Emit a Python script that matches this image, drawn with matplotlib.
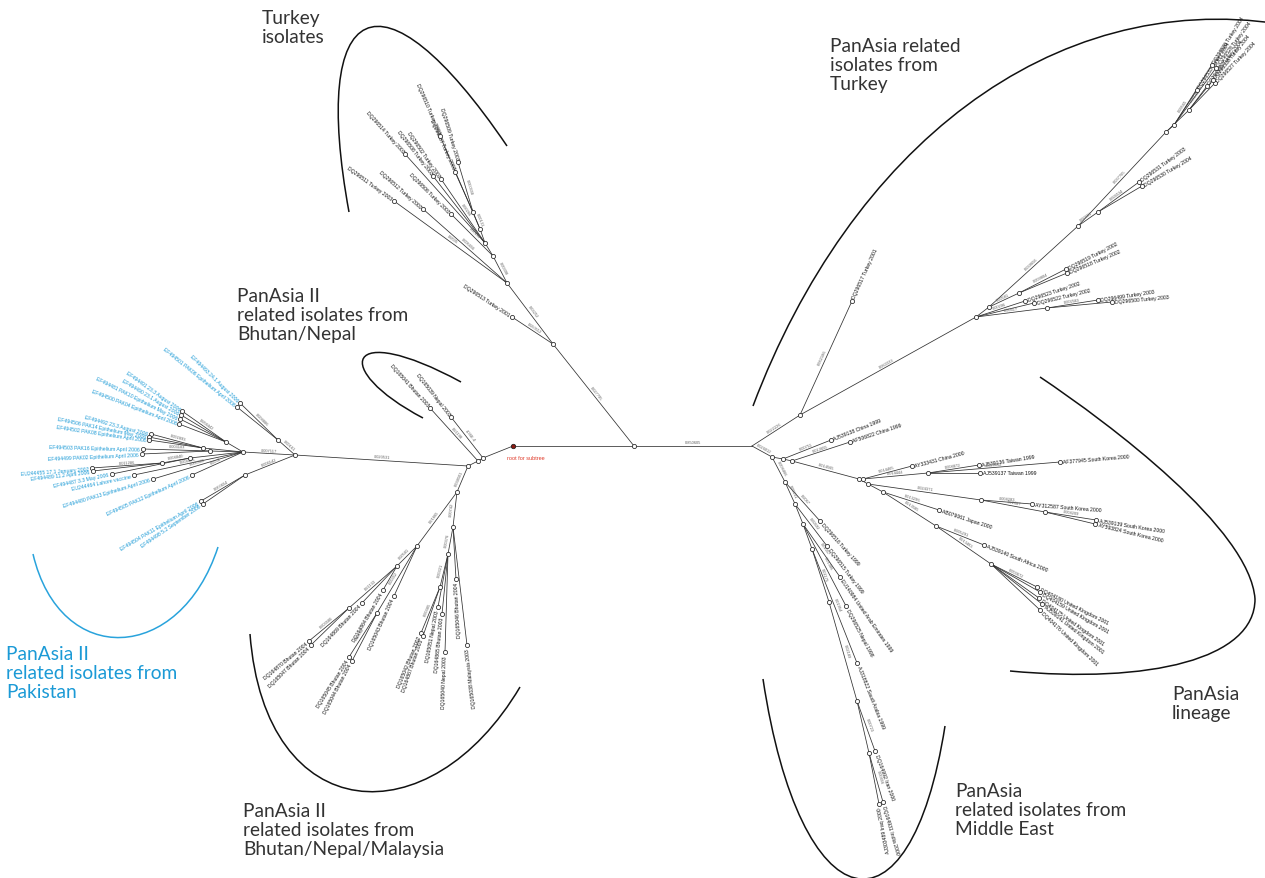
import numpy as np
import matplotlib.pyplot as plt
from matplotlib.path import Path
from matplotlib.patches import PathPatch

# tree nodes: (id, parent, x, y, taxon, branch length printed on the edge)
backbone = [
    ("root", None, 513, 447, "", ""),
    ("a", "root", 634, 447, "", ""),
    ("b", "a", 752, 447, "", "0.850605"),
    ("n1", "root", 483, 459, "", ""),
    ("n2", "n1", 478, 462, "", ""),
    ("n3", "n2", 468, 467, "", ""),
    ("DQ165039", "n1", 451, 418, "DQ165039 Nepal 2003", "4.36E-4"),
    ("DQ165041", "n2", 430, 409, "DQ165041 Bhutan 2003", "0.01198"),
]

turkey_2003 = [
    ("t0", "a", 553, 345, "", "0.027795"),
    ("t1", "t0", 507, 284, "", "0.03252"),
    ("DQ296513", "t0", 512, 318, "DQ296513 Turkey 2001", "0.000512"),
    ("DQ296511", "t1", 394, 202, "DQ296511 Turkey 2003", "0.0095"),
    ("DQ296512", "t1", 423, 210, "DQ296512 Turkey 2003", "0.005656"),
    ("t2", "t1", 493, 257, "", "0.00398"),
    ("DQ296506", "t2", 451, 215, "DQ296506 Turkey 2003", "0.00195"),
    ("t3", "t2", 485, 244, "", ""),
    ("DQ296514", "t3", 405, 155, "DQ296514 Turkey 2003", ""),
    ("DQ296502", "t3", 441, 180, "DQ296502 Turkey 2003", "0.00266"),
    ("DQ296508", "t3", 433, 177, "DQ296508 Turkey 2003", ""),
    ("t4", "t3", 480, 230, "", ""),
    ("t5", "t4", 473, 213, "", "0.00131"),
    ("DQ296509", "t5", 458, 163, "DQ296509 Turkey 2003", "0.000558"),
    ("DQ296507", "t5", 455, 173, "DQ296507 Turkey 2003", ""),
    ("DQ296510", "t4", 440, 137, "DQ296510 Turkey 2003", ""),
]

pakistan = [
    ("p0", "n3", 295, 456, "", "0.020531"),
    ("p1", "p0", 278, 441, "", "0.00161"),
    ("EF494493", "p1", 240, 404, "EF494493 24.1 August 2006", "0.008886"),
    ("EF494501", "p1", 237, 408, "EF494501 PAK06 Epithelium April 2006", ""),
    ("p3", "p0", 245, 476, "", "0.006142"),
    ("EF494504", "p3", 201, 502, "EF494504 PAK11 Epithelium April 2006", "0.000654"),
    ("EF494498", "p3", 203, 505, "EF494498 5.2 September 2006", ""),
    ("p2", "p0", 243, 453, "", "0.007117"),
    ("q1", "p2", 226, 443, "", ""),
    ("EF494491", "q1", 182, 412, "EF494491 23.3 August 2006", "0.004442"),
    ("EF494490", "q1", 181, 416, "EF494490 23.1 August 2006", ""),
    ("EF494481", "q1", 180, 420, "EF494481 PAK10 Epithelium May 2006", ""),
    ("EF494500", "q1", 179, 425, "EF494500 PAK04 Epithelium April 2006", ""),
    ("q2", "p2", 203, 449, "", ""),
    ("EF494492", "q2", 151, 435, "EF494492 23.3 August 2006", "0.002893"),
    ("EF494506", "q2", 149, 438, "EF494506 PAK14 Epithelium May 2006", ""),
    ("EF494502", "q2", 149, 441, "EF494502 PAK08 Epithelium April 2006", ""),
    ("q3", "p2", 210, 452, "", ""),
    ("EF494503", "q3", 143, 450, "EF494503 PAK16 Epithelium April 2006", "0.003103"),
    ("EF494499", "q3", 142, 455, "EF494499 PAK02 Epithelium April 2006", ""),
    ("q4", "p2", 190, 459, "", ""),
    ("q5", "q4", 162, 464, "", "0.004840"),
    ("EU244455", "q5", 92, 469, "EU244455 17.1 January 2002", "0.011286"),
    ("EF494489", "q5", 93, 472, "EF494489 11.2 April 2006", ""),
    ("EF494487", "q4", 112, 475, "EF494487 3.3 May 2006", ""),
    ("EU244464", "p2", 134, 476, "EU244464 Lahore vaccine", "0.004475"),
    ("EF494480", "p2", 153, 480, "EF494480 PAK13 Epithelium April 2006", "0.005382"),
    ("EF494505", "p2", 192, 476, "EF494505 PAK12 Epithelium April 2006", "0.0001"),
]

bhutan = [
    ("m0", "n3", 457, 493, "", "0.038501"),
    ("m1", "m0", 417, 547, "", "0.01865"),
    ("m2", "m0", 453, 528, "", "0.00742"),
    ("m1a", "m1", 397, 567, "", "0.00581"),
    ("m1b", "m1a", 349, 609, "", "0.01133"),
    ("DQ164870", "m1b", 309, 642, "DQ164870 Bhutan 2004", "0.003580"),
    ("DQ165047", "m1b", 311, 646, "DQ165047 Bhutan 2004", ""),
    ("DQ164869", "m1a", 362, 604, "DQ164869 Bhutan 2004", ""),
    ("DQ164864", "m1a", 383, 591, "DQ164864 Bhutan 2004", ""),
    ("m1c", "m1", 377, 614, "", "0.00352"),
    ("DQ165045", "m1c", 349, 658, "DQ165045 Bhutan 2004", "0.00158"),
    ("DQ165044", "m1c", 352, 662, "DQ165044 Bhutan 2004", ""),
    ("DQ165043", "m1", 394, 597, "DQ165043 Bhutan 2004", ""),
    ("DQ165046", "m2", 456, 580, "DQ165046 Bhutan 2004", ""),
    ("DQ165038", "m2", 467, 646, "DQ165038 Malaysia 2003", ""),
    ("m2a", "m2", 448, 555, "", "0.00376"),
    ("m2b", "m2a", 440, 588, "", "0.00321"),
    ("DQ165042", "m2b", 421, 634, "DQ165042 Bhutan 2002", "0.00385"),
    ("DQ164867", "m2b", 423, 637, "DQ164867 Bhutan 2003", ""),
    ("DQ165051", "m2a", 438, 608, "DQ165051 Nepal 2003", ""),
    ("DQ164865", "m2a", 442, 615, "DQ164865 Bhutan 2003", ""),
    ("DQ165040", "m2a", 445, 653, "DQ165040 Nepal 2003", ""),
]

turkey_panasia = [
    ("r0", "b", 800, 416, "", "0.022226"),
    ("DQ296517", "r0", 852, 302, "DQ296517 Turkey 2001", "0.062186"),
    ("r1", "r0", 976, 318, "", "0.063333"),
    ("r2", "r1", 989, 308, "", ""),
    ("r3", "r2", 1078, 227, "", "0.039656"),
    ("r4", "r3", 1166, 133, "", "0.037765"),
    ("r5", "r4", 1174, 126, "", ""),
    ("r6", "r4", 1189, 111, "", ""),
    ("DQ296533", "r5", 1197, 91, "DQ296533 Turkey 2004", "0.00565"),
    ("DQ296535", "r6", 1207, 87, "DQ296535 Turkey 2004", "0.00145"),
    ("DQ296527", "r6", 1215, 84, "DQ296527 Turkey 2004", ""),
    ("DQ296538", "r6", 1213, 81, "DQ296538 Turkey 2004", ""),
    ("DQ296536", "r5", 1212, 66, "DQ296536 Turkey 2004", ""),
    ("DQ296528", "r5", 1216, 69, "DQ296528 Turkey 2004", ""),
    ("r7", "r3", 1098, 213, "", "0.00661"),
    ("DQ296531", "r7", 1139, 183, "DQ296531 Turkey 2003", "0.006534"),
    ("DQ296530", "r7", 1142, 187, "DQ296530 Turkey 2004", ""),
    ("r8", "r2", 1019, 294, "", "0.00581"),
    ("DQ296519", "r8", 1066, 270, "DQ296519 Turkey 2002", "0.009804"),
    ("DQ296518", "r8", 1067, 274, "DQ296518 Turkey 2002", ""),
    ("DQ296523", "r1", 1025, 302, "DQ296523 Turkey 2002", "0.00296"),
    ("DQ296522", "r1", 1034, 304, "DQ296522 Turkey 2002", ""),
    ("r9", "r1", 1047, 309, "", "0.00417"),
    ("DQ296499", "r9", 1098, 301, "DQ296499 Turkey 2003", "0.002583"),
    ("DQ296500", "r9", 1112, 303, "DQ296500 Turkey 2003", ""),
]

panasia = [
    ("s0", "b", 772, 458, "", "0.026012"),
    ("s1", "s0", 783, 460, "", ""),
    ("AJ539138", "s1", 831, 441, "AJ539138 China 1999", "0.00751"),
    ("s1b", "s1", 792, 462, "", ""),
    ("AF506822", "s1b", 850, 443, "AF506822 China 1999", "0.013655"),
    ("s2", "s1b", 859, 480, "", "0.014565"),
    ("s3", "s2", 863, 480, "", ""),
    ("AY333431", "s3", 912, 467, "AY333431 China 2000", "0.014465"),
    ("s4", "s3", 928, 474, "", "0.014444"),
    ("AJ539136", "s4", 979, 466, "AJ539136 Taiwan 1999", "0.008872"),
    ("AJ539137", "s4", 980, 474, "AJ539137 Taiwan 1999", ""),
    ("AF377945", "s4", 1060, 463, "AF377945 South Korea 2000", "0.028862"),
    ("s5", "s2", 868, 485, "", ""),
    ("s6", "s5", 981, 501, "", "0.024371"),
    ("AY312587", "s6", 1032, 505, "AY312587 South Korea 2000", "0.004283"),
    ("s7", "s6", 1045, 513, "", "0.01687"),
    ("AJ539139", "s7", 1096, 521, "AJ539139 South Korea 2000", "0.004209"),
    ("AY593824", "s7", 1095, 525, "AY593824 South Korea 2000", ""),
    ("s8", "s5", 883, 493, "", ""),
    ("AB079061", "s8", 939, 511, "AB079061 Japan 2000", "0.013296"),
    ("s9", "s8", 936, 527, "", "0.013585"),
    ("AJ539140", "s9", 984, 546, "AJ539140 South Africa 2000", "0.005291"),
    ("s10", "s9", 991, 565, "", "0.013483"),
    ("DQ404180", "s10", 1037, 588, "DQ404180 United Kingdom 2001", "0.003672"),
    ("DQ404159", "s10", 1040, 593, "DQ404159 United Kingdom 2001", ""),
    ("DQ404175", "s10", 1039, 599, "DQ404175 United Kingdom 2001", ""),
    ("AJ539141", "s10", 1042, 605, "AJ539141 United Kingdom 2001", ""),
    ("DQ404176", "s10", 1040, 611, "DQ404176 United Kingdom 2001", ""),
]

middle_east = [
    ("e0", "s0", 785, 483, "", "0.008466"),
    ("DQ296516", "e0", 820, 522, "DQ296516 Turkey 1999", "0.0067"),
    ("e1", "e0", 795, 505, "", "0.00231"),
    ("DQ296515", "e1", 827, 547, "DQ296515 Turkey 1999", "0.00692"),
    ("e2", "e1", 803, 525, "", ""),
    ("EU140984", "e2", 840, 578, "EU140984 United Arab Emirates 1999", "0.01057"),
    ("DQ296525", "e2", 846, 607, "DQ296525 Nepal 1998", "0.01386"),
    ("e3", "e2", 812, 550, "", ""),
    ("AJ318822", "e3", 857, 664, "AJ318822 Saudi Arabia 1999", "0.01954"),
    ("e4", "e3", 829, 603, "", "0.01175"),
    ("e5", "e4", 857, 702, "", "0.02189"),
    ("DQ164992", "e5", 875, 752, "DQ164992 Iran 2000", "0.00723"),
    ("e6", "e5", 869, 754, "", ""),
    ("DQ164931", "e6", 883, 803, "DQ164931 India 2000", "0.00456"),
    ("AJ303489", "e6", 879, 805, "AJ303489 Iraq 2000", ""),
]

# group captions: text, left x, top y, colour
captions = [
    ("Turkey\nisolates", 262, 10, "#333333"),
    ("PanAsia related\nisolates from\nTurkey", 830, 38, "#333333"),
    ("PanAsia II\nrelated isolates from\nBhutan/Nepal", 237, 288, "#333333"),
    ("PanAsia II\nrelated isolates from\nPakistan", 6, 646, "#1b9ad6"),
    ("PanAsia II\nrelated isolates from\nBhutan/Nepal/Malaysia", 243, 803, "#333333"),
    ("PanAsia\nrelated isolates from\nMiddle East", 955, 783, "#333333"),
    ("PanAsia\nlineage", 1172, 686, "#333333"),
]

# bracket curves as cubic Bezier control points
brackets = [
    ([(349, 213), (310, 0), (380, -40), (507, 147)], "#111111"),
    ([(423, 419), (330, 370), (345, 320), (461, 383)], "#111111"),
    ([(753, 407), (850, 150), (1050, -10), (1280, 25)], "#111111"),
    ([(1040, 378), (1110, 425), (1250, 530), (1255, 600),
      (1255, 660), (1150, 685), (1010, 672)], "#111111"),
    ([(763, 680), (800, 925), (910, 950), (945, 727)], "#111111"),
    ([(250, 635), (265, 830), (430, 840), (520, 688)], "#111111"),
    ([(33, 555), (60, 670), (180, 665), (218, 548)], "#29a3dc"),
]

clades = [(backbone, "#111111"), (turkey_2003, "#111111"), (pakistan, "#1b9ad6"),
          (bhutan, "#111111"), (turkey_panasia, "#111111"), (panasia, "#111111"),
          (middle_east, "#111111")]

fig = plt.figure(figsize=(12.65, 8.79), dpi=100)
ax = fig.add_axes([0, 0, 1, 1])
ax.set_xlim(0, 1265)
ax.set_ylim(879, 0)
ax.axis("off")

pos = {}
for rows, _ in clades:
    for nid, par, x, y, taxon, bl in rows:
        pos[nid] = (x, y)

for rows, tcol in clades:
    for nid, par, x, y, taxon, bl in rows:
        if par is None:
            continue
        px, py = pos[par]
        ax.plot([px, x], [py, y], color="#303030", lw=0.55, zorder=2)
        dx, dy = x - px, y - py
        L = np.hypot(dx, dy)
        ang = np.degrees(np.arctan2(-dy, dx))
        if bl:
            rot = ang
            if rot > 90:
                rot -= 180
            if rot <= -90:
                rot += 180
            th = np.radians(rot)
            ox, oy = -np.sin(th) * 1.5, -np.cos(th) * 1.5
            ax.text((px + x) / 2 + ox, (py + y) / 2 + oy, bl, fontsize=2.9,
                    color="#606060", rotation=rot, rotation_mode="anchor",
                    ha="center", va="bottom", family="Liberation Sans", zorder=3)
        if taxon:
            ux, uy = dx / L, dy / L
            tx, ty = x + ux * 3, y + uy * 3
            # labels pointing left or straight down are flipped to stay readable
            if ang > 90:
                rot, ha = ang - 180, "right"
            elif ang < -78:
                rot, ha = ang + 180, "right"
            else:
                rot, ha = ang, "left"
            ax.text(tx, ty, taxon, fontsize=3.7, color=tcol, rotation=rot,
                    rotation_mode="anchor", ha=ha, va="center",
                    family="Liberation Sans", zorder=3)

# node circles
xs = [p[0] for k, p in pos.items() if k not in ("root", "b")]
ys = [p[1] for k, p in pos.items() if k not in ("root", "b")]
ax.plot(xs, ys, "o", ms=3.0, mfc="white", mec="#202020", mew=0.55, zorder=4)
ax.plot(*pos["root"], "o", ms=3.2, mfc="#8a1a12", mec="#202020", mew=0.55, zorder=5)
ax.text(507, 459, "root for subtree", fontsize=4.0, color="#e03a2a",
        va="center", ha="left", family="Liberation Sans")

for pts, col in brackets:
    codes = [Path.MOVETO] + [Path.CURVE4] * (len(pts) - 1)
    ax.add_patch(PathPatch(Path(pts, codes), fill=False, edgecolor=col, lw=1.1, zorder=1))

for txt, x, y, col in captions:
    ax.text(x, y, txt, fontsize=13.8, color=col, ha="left", va="top",
            linespacing=1.15, family="Lato")

fig.savefig("out.png", dpi=100)
